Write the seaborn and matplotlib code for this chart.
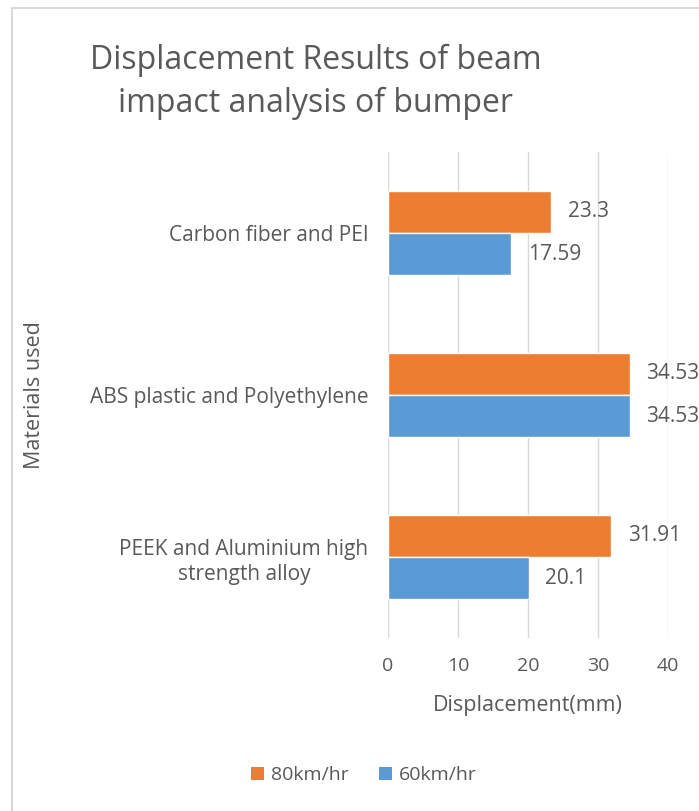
import pandas as pd
import matplotlib.pyplot as plt
import seaborn as sns
from matplotlib.lines import Line2D
from matplotlib.patches import Patch

materials = ['Carbon fiber and PEI', 'ABS plastic and Polyethylene',
             'PEEK and Aluminium high\nstrength alloy']
speed_80 = [23.3, 34.53, 31.91]
speed_60 = [17.59, 34.53, 20.1]
series = ['80km/hr', '60km/hr']
colors = ['#ED7D31', '#5B9BD5']
x_ticks = [0, 10, 20, 30, 40]

df = pd.DataFrame({
    'material': materials * 2,
    'value': speed_80 + speed_60,
    'speed': [series[0]] * 3 + [series[1]] * 3,
})

sns.set_style('white')
plt.rcParams['font.family'] = ['Open Sans', 'DejaVu Sans']
txt = '#595959'

fig = plt.figure(figsize=(6.99, 8.11), dpi=100)
ax = fig.add_axes([388 / 699, 1 - 638 / 811, 280 / 699, 486 / 811])

sns.barplot(data=df, y='material', x='value', hue='speed', order=materials,
            hue_order=series, palette=colors, orient='h', width=0.52,
            ax=ax, legend=False, saturation=1)

for bars in ax.containers:
    labels = [f'{v:g}' for v in bars.datavalues]
    ax.bar_label(bars, labels=labels, padding=12, fontsize=15, color=txt)

ax.set_xlim(0, 40)
ax.set_ylim(2.5, -0.5)
ax.set_xticks(x_ticks)
ax.xaxis.grid(True, color='#D9D9D9', linewidth=1)
ax.set_axisbelow(True)
for s in ax.spines.values():
    s.set_visible(False)
ax.tick_params(axis='y', length=0, colors=txt, labelsize=15, pad=14)
ax.tick_params(axis='x', length=0, colors=txt, labelsize=14, pad=14)
for lbl in ax.get_yticklabels():
    lbl.set_multialignment('center')
    lbl.set_linespacing(1.3)

ax.set_xlabel('Displacement(mm)', fontsize=15.5, color=txt, labelpad=14)
ax.set_ylabel('')
fig.text(35 / 699, 1 - 395 / 811, 'Materials used', rotation=90,
         ha='center', va='center', fontsize=15.5, color=txt)

fig.text(316 / 699, 1 - 82 / 811, 'Displacement Results of beam\nimpact analysis of bumper',
         ha='center', va='center', fontsize=23, color=txt, linespacing=1.4)

handles = [Patch(facecolor=c, edgecolor='none') for c in colors]
fig.legend(handles, series, loc='center', bbox_to_anchor=(364 / 699, 1 - 775 / 811),
           ncol=2, frameon=False, fontsize=14, labelcolor=txt,
           handlelength=0.65, handleheight=0.65, handletextpad=0.35, columnspacing=1.6)

# chart area border (left and top edges visible)
fig.add_artist(Line2D([12 / 699, 12 / 699], [0, 1 - 8 / 811], color='#D9D9D9', linewidth=1.5))
fig.add_artist(Line2D([12 / 699, 1], [1 - 8 / 811, 1 - 8 / 811], color='#D9D9D9', linewidth=1.5))

fig.savefig('out.png', dpi=100)
